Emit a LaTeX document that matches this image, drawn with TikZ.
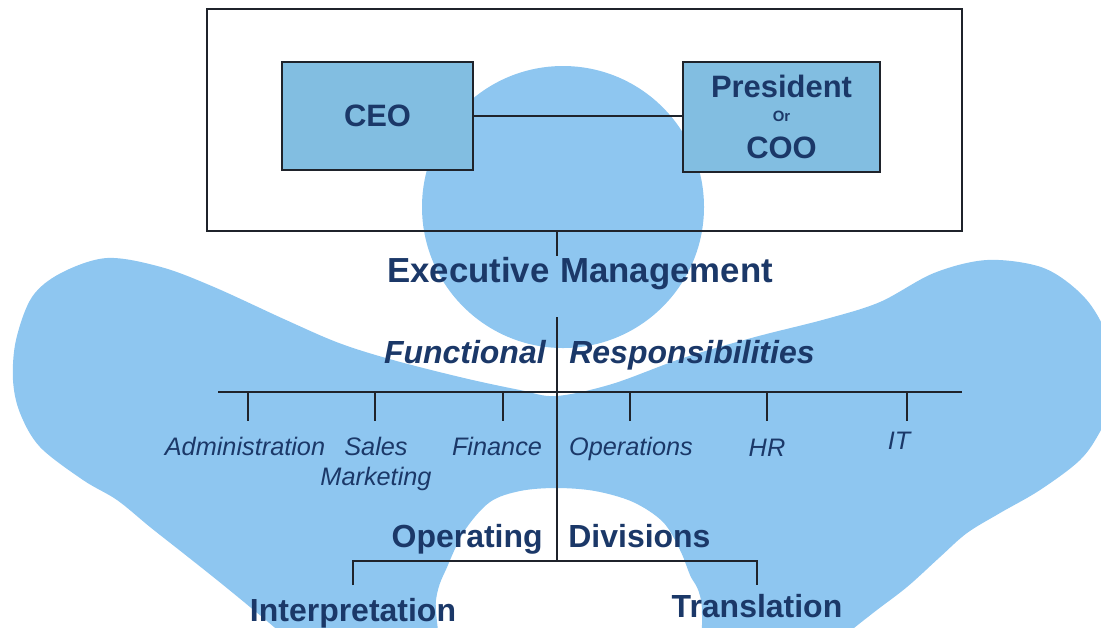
\documentclass[tikz,border=0pt]{standalone}
\usepackage{fontspec}
\setmainfont{Liberation Sans}
\usepackage{xcolor}
\usetikzlibrary{positioning}
\definecolor{orgink}{HTML}{1B3868}
\definecolor{orgrule}{HTML}{1F232B}
\definecolor{orgbox}{HTML}{82BEE1}
\definecolor{orgwash}{HTML}{8EC6F0}

\begin{document}
\begin{tikzpicture}[
  x=0.02cm,
  y=-0.02cm,
  every node/.style={text=orgink, inner sep=0pt},
  wash/.style={fill=orgwash},
  board/.style={orgrule, line width=1.2pt},
  rule/.style={orgrule, line width=1.6pt},
  office/.style={draw=orgrule, line width=1.4pt, fill=orgbox, align=center,
                 font=\fontsize{17.6}{20}\selectfont\bfseries},
  tier/.style={font=\fontsize{18.2}{21}\selectfont\bfseries},
  tierit/.style={font=\fontsize{18.2}{21}\selectfont\bfseries\itshape},
  unit/.style={font=\fontsize{14.4}{17.1}\selectfont\itshape}
]
  \useasboundingbox (0,0) rectangle (1101,627);
  \clip (0,0) rectangle (1101,627);

  % ---- the pale figure behind the chart --------------------------------
  \fill[wash] (563,207) circle[radius=141];
  \fill[wash] plot[smooth cycle, tension=0.55] coordinates {
    (61,273) (107,258) (161,267) (214,287) (286,320) (339,343) (393,360)
    (464,378) (520,390) (556,396) (612,384) (683,358) (755,337) (826,319)
    (880,302) (934,273) (987,260) (1041,267) (1077,290) (1100,320)
    (1125,380) (1101,430) (1080,460) (1040,490) (1000,513) (967,533)
    (940,557) (907,587) (873,613) (840,640) (800,680) (712,680) (701,600)
    (690,575) (680,550) (663,522) (633,502) (595,491) (556,488) (520,491)
    (490,502) (465,530) (448,565) (436,600) (432,680) (330,680) (283,635)
    (250,607) (217,580) (183,553) (150,527) (117,500) (83,480) (40,447)
    (20,413) (13,380) (16,340) (32,297)};

  % ---- top office --------------------------------------------------------
  \draw[board] (207,9) rectangle (962,231);
  \node[office, minimum width=3.82cm, minimum height=2.16cm] (ceo)
    at (377.5,116) {CEO};
  \node[office, minimum width=3.94cm, minimum height=2.2cm] (pres)
    at (781.5,117)
    {President\\[-6.3pt]{\fontsize{8.5}{10}\selectfont Or}\\[1pt]COO};
  \draw[rule] (ceo.east) -- (ceo.east -| pres.west);

  % ---- spine -------------------------------------------------------------
  \coordinate (spine) at (557,231);
  \coordinate (execfoot) at (557,317);
  \coordinate (fbar) at (557,392);
  \coordinate (dbar) at (557,561);
  \node[tier, font=\fontsize{19.8}{23}\selectfont\bfseries, anchor=base east]
    (exec) at (550,282) {Executive};
  \node[tier, font=\fontsize{19.8}{23}\selectfont\bfseries,
    base right=0.2cm of exec] (mgmt) {Management};
  \draw[rule] (spine) -- (spine |- exec.north);
  \draw[rule] (execfoot) -- (dbar);

  % ---- functional responsibilities ---------------------------------------
  \node[tierit, anchor=base east] (func) at (546,363) {Functional};
  \node[tierit, base right=0.46cm of func] (resp) {Responsibilities};
  \coordinate (fleft) at (218,392);
  \coordinate (fright) at (962,392);
  \draw[rule] (fleft) -- (fright);
  \foreach \n/\x in {adm/248, sales/375, fin/503, ops/630, hr/767, it/907}{
    \coordinate (\n-hook) at (\x,421);
    \draw[rule] (\n-hook |- fbar) -- (\n-hook);
  }
  \node[unit, anchor=base] (adm) at (245,455) {Administration};
  \node[unit, anchor=north, align=center] (sales) at (376,437)
    {Sales\\Marketing};
  \node[unit, anchor=base] (fin) at (497,455) {Finance};
  \node[unit, anchor=base] (ops) at (631,455) {Operations};
  \node[unit, anchor=base] (hr) at (767,456) {HR};
  \node[unit, anchor=base] (it) at (899,449) {IT};

  % ---- operating divisions -----------------------------------------------
  \node[tier, anchor=base east] (oper) at (543,547) {Operating};
  \node[tier, base right=0.5cm of oper] (divs) {Divisions};
  \coordinate (interp-hook) at (353,585);
  \coordinate (trans-hook) at (757,585);
  \draw[rule] (interp-hook) -- (interp-hook |- dbar) -- (trans-hook |- dbar)
    -- (trans-hook);
  \node[tier, anchor=base] (interp) at (353,621) {Interpretation};
  \node[tier, anchor=base] (trans) at (757,617) {Translation};
\end{tikzpicture}
\end{document}
